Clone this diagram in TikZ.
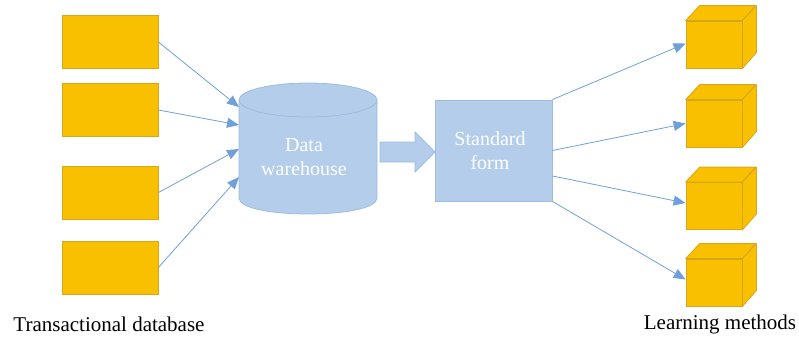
\documentclass[tikz,border=0pt]{standalone}
\usepackage{fontspec}
\setmainfont{Liberation Serif}
\usetikzlibrary{arrows.meta,calc}
\definecolor{gold}{HTML}{F9C000}
\definecolor{goldedge}{HTML}{D8A61C}
\definecolor{paleblue}{HTML}{B4CDEA}
\definecolor{paleedge}{HTML}{9DBCE2}
\definecolor{linkblue}{HTML}{6FA0DA}
\tikzset{
  source/.style={draw=goldedge, line width=0.8pt, fill=gold, minimum width=96pt, minimum height=53pt, inner sep=0pt},
  face/.style={draw=goldedge, line width=0.8pt, fill=gold, line join=round},
  front/.style={face, minimum width=56pt, minimum height=47pt, inner sep=0pt},
  store/.style={draw=paleedge, line width=0.8pt, fill=paleblue},
  link/.style={draw=linkblue, line width=0.8pt, -{Triangle[length=12pt,width=10pt]}},
  inner/.style={text=white, font=\fontsize{20}{25}\selectfont, align=center},
  caption/.style={font=\fontsize{21}{25}\selectfont, inner sep=0pt},
}
\newcommand{\cubeat}[2]{%
  \node[front] (#1) at (#2) {};
  \draw[face] (#1.north west) -- ++(14,-15) -- ++(56,0) -- (#1.north east) -- cycle;
  \draw[face] (#1.north east) -- ++(14,-15) -- ++(0,47) -- (#1.south east) -- cycle;
}
\begin{document}
\begin{tikzpicture}[x=1pt,y=-1pt]
  \useasboundingbox (0,0) rectangle (799,341);

  % transactional sources
  \node[source] (t1) at (110,41.5) {};
  \node[source] (t2) at (110,110) {};
  \node[source] (t3) at (110,192.5) {};
  \node[source] (t4) at (110,267.5) {};

  % data warehouse cylinder
  \path[store, draw=none] (239,100) -- (239,198) .. controls (239,219.3) and (377,219.3) .. (377,198) -- (377,100) -- cycle;
  \draw[paleedge, line width=0.8pt] (239,100) -- (239,198) .. controls (239,219.3) and (377,219.3) .. (377,198) -- (377,100);
  \draw[store] (308,100) ellipse [x radius=69, y radius=17];
  \node[inner] (dw) at (304,157) {Data\\[-1pt]warehouse};
  \coordinate (in1) at (239,107);
  \coordinate (in2) at (239,125);
  \coordinate (in3) at (239,149);
  \coordinate (in4) at (239,177);

  % standard form
  \node[store, minimum width=117pt, minimum height=101pt, inner sep=0pt] (sf) at (493.5,150.5) {};
  \node[inner] (sft) at (490,150.5) {Standard\\[-1pt]form};

  % block arrow between warehouse and standard form
  \draw[store, line join=miter] (380,142) -- (415,142) -- (415,132) -- (435,152) -- (415,172) -- (415,162) -- (380,162) -- cycle;

  % learning method cubes
  \cubeat{m1}{714,44.5}
  \cubeat{m2}{714,123.5}
  \cubeat{m3}{714,206}
  \cubeat{m4}{714,282.5}

  % connectors into the warehouse
  \draw[link] ($(t1.east)+(0,0.5)$) -- (in1);
  \draw[link] (t2.east) -- (in2);
  \draw[link] (t3.east) -- (in3);
  \draw[link] (t4.east) -- (in4);

  % connectors out to the learning methods
  \coordinate (s1) at (sf.north east);
  \coordinate (s2) at ($(sf.north east)!0.5!(sf.south east)$);
  \coordinate (s3) at ($(sf.north east)!0.75!(sf.south east)$);
  \coordinate (s4) at (sf.south east);
  \draw[link] (s1) -- ($(m1.west)+(0,-1)$);
  \draw[link] (s2) -- (m2.west);
  \draw[link] (s3) -- ($(m3.west)+(0,-3)$);
  \draw[link] (s4) -- ($(m4.west)+(0,-3)$);

  % captions
  \node[caption] (lt) at (109,324) {Transactional database};
  \node[caption] (lr) at (720,324) {Learning methods};
\end{tikzpicture}
\end{document}
